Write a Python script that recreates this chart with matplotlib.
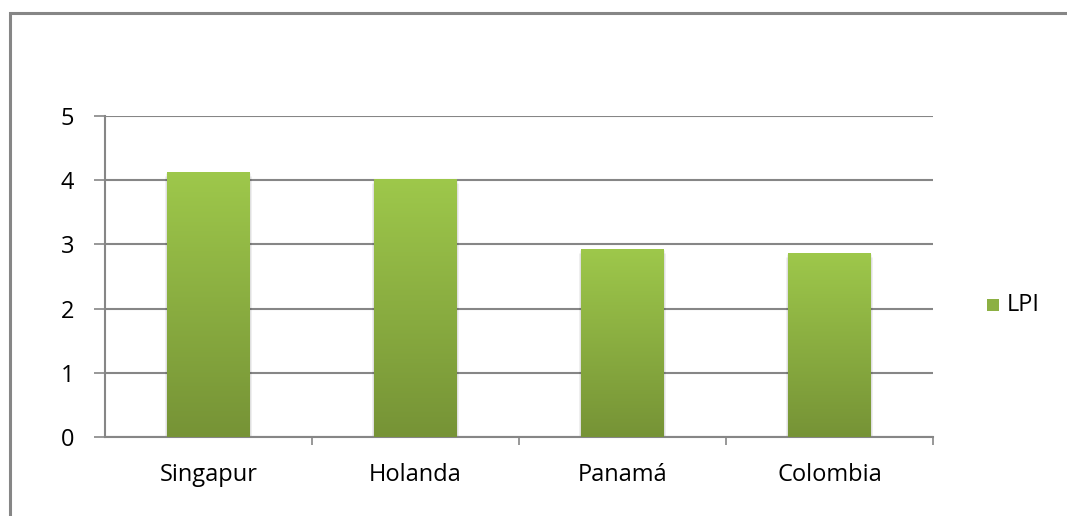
import numpy as np
import matplotlib.pyplot as plt
from matplotlib.patches import Rectangle

# Índice de desempeño logístico (LPI) por país
paises = ['Singapur', 'Holanda', 'Panamá', 'Colombia']
lpi = [4.13, 4.02, 2.93, 2.87]
y_ticks = [0, 1, 2, 3, 4, 5]

plt.rcParams['font.family'] = ['Open Sans', 'DejaVu Sans']

fig = plt.figure(figsize=(10.67, 5.16), dpi=100)

# marco gris alrededor del gráfico
fig.add_artist(Rectangle((10 / 1067, -0.1), 1.2, (516 - 13) / 516 + 0.1,
                         transform=fig.transFigure, fill=False,
                         edgecolor='#868686', linewidth=2.2))

ax = fig.add_axes([105 / 1067, (516 - 437) / 516, 828 / 1067, 321 / 516])

x = np.arange(len(paises))
ancho = 0.4

# degradado vertical de las barras
grad = np.linspace(0, 1, 256).reshape(-1, 1)
top = np.array([0x9e, 0xc8, 0x4b]) / 255
bot = np.array([0x76, 0x93, 0x36]) / 255
colores = bot + (top - bot) * grad[..., None]

bars = ax.bar(x, lpi, width=ancho, color='none', zorder=3)
for b, v in zip(bars, lpi):
    x0 = b.get_x()
    # sombra suave
    for k in range(4):
        ax.add_patch(Rectangle((x0 - 0.003 * (k + 1), -0.02 * (k + 1)),
                               ancho + 0.006 * (k + 1), v,
                               facecolor='black', alpha=0.03, linewidth=0, zorder=2))
    im = ax.imshow(colores, extent=(x0, x0 + ancho, 0, v), origin='lower',
                   aspect='auto', zorder=3)
    im.set_clip_path(b)

ax.set_xlim(-0.5, len(paises) - 0.5)
ax.set_ylim(0, 5)
ax.set_yticks(y_ticks)
ax.set_yticklabels([str(t) for t in y_ticks], fontsize=17)
ax.yaxis.grid(True, color='#868686', linewidth=1.5, zorder=1)
ax.set_axisbelow(True)

ax.set_xticks(x)
ax.set_xticklabels(paises, fontsize=17)
ax.tick_params(axis='x', length=0, pad=19)
ax.set_xticks(np.arange(0.5, len(paises)), minor=True)
ax.tick_params(axis='x', which='minor', length=6, width=1.2, color='#868686')
ax.tick_params(axis='y', length=8, width=1.2, color='#868686', pad=14)

for s in ['top', 'right']:
    ax.spines[s].set_visible(False)
for s in ['left', 'bottom']:
    ax.spines[s].set_color('#868686')
    ax.spines[s].set_linewidth(1.5)

# leyenda
fig.patches.append(Rectangle((987 / 1067, (516 - 311) / 516), 12 / 1067, 12 / 516,
                             transform=fig.transFigure, facecolor='#8cb043',
                             edgecolor='none'))
fig.text(1007 / 1067, (516 - 305) / 516, 'LPI', fontsize=17, va='center', ha='left')

fig.savefig('out.png', dpi=100)
